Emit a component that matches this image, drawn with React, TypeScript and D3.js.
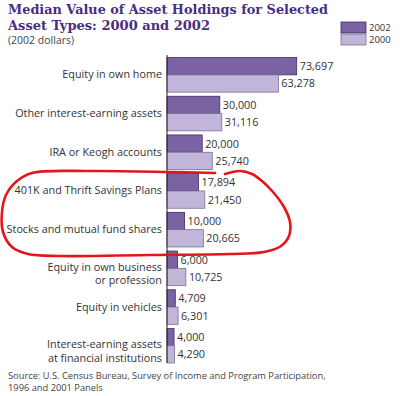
import React from "react";
import * as d3 from "d3";

const categories: string[][] = [
  ["Equity in own home"],
  ["Other interest-earning assets"],
  ["IRA or Keogh accounts"],
  ["401K and Thrift Savings Plans"],
  ["Stocks and mutual fund shares"],
  ["Equity in own business", "or profession"],
  ["Equity in vehicles"],
  ["Interest-earning assets", "at financial institutions"],
];
const values2002: number[] = [73697, 30000, 20000, 17894, 10000, 6000, 4709, 4000];
const values2000: number[] = [63278, 31116, 25740, 21450, 20665, 10725, 6301, 4290];
const seriesNames: string[] = ["2002", "2000"];
const titleLines: string[] = ["Median Value of Asset Holdings for Selected", "Asset Types: 2000 and 2002"];
const subtitle = "(2002 dollars)";
const sourceLines: string[] = [
  "Source: U.S. Census Bureau, Survey of Income and Program Participation,",
  "1996 and 2001 Panels",
];

const C2002 = "#7b62a3";
const C2000 = "#c1b5d9";
const S2002 = "#3e2d5e";
const S2000 = "#7d7194";
const TITLE = "#4b2d7f";
const FONT = "'Open Sans', 'DejaVu Sans', sans-serif";

export default function App() {
  const W = 400, H = 396;
  const keys = categories.map((_, i) => String(i));
  const y = d3.scaleBand<string>().domain(keys).range([55.5, 365.1]).paddingInner(0.106).paddingOuter(0.053);
  const x = d3.scaleLinear().domain([0, 80000]).range([167, 167 + 140.8]);
  const inner = d3.scaleBand<string>().domain(seriesNames).range([0, y.bandwidth()]);
  const fmt = d3.format(",");
  const series = [
    { name: "2002", vals: values2002, fill: C2002, stroke: S2002 },
    { name: "2000", vals: values2000, fill: C2000, stroke: S2000 },
  ];
  const line = d3.line().curve(d3.curveCatmullRom.alpha(0.5));
  const ring: [number, number][] = [
    [225, 174], [240, 171], [252, 174], [262, 181], [273, 192], [284, 207], [290, 222],
    [289, 236], [281, 246], [264, 252], [230, 254], [150, 255], [60, 256], [28, 254],
    [12, 247], [3, 232], [2, 212], [6, 195], [17, 181], [32, 173], [90, 171], [170, 172], [215, 173],
  ];
  return (
    <svg width={W} height={H} style={{ position: "absolute", left: 0, top: 0, background: "#fff" }}>
      <rect width={W} height={H} fill="#fff" />
      {titleLines.map((t, i) => (
        <text key={i} x={8} y={14 + i * 16} fontFamily="'DejaVu Serif', serif" fontWeight="bold"
          fontSize={13} fill={TITLE} textLength={i === 0 ? 320 : 202} lengthAdjust="spacingAndGlyphs">{t}</text>
      ))}
      <text x={8} y={44} fontFamily={FONT} fontSize={10.5} fill="#444">{subtitle}</text>
      {series.map((s, i) => (
        <g key={s.name}>
          <rect x={341} y={22 + i * 12} width={25} height={11} fill={s.fill} stroke={s.stroke} strokeWidth={0.8} />
          <text x={369} y={31 + i * 12} fontFamily={FONT} fontSize={9.5} fill="#333">{s.name}</text>
        </g>
      ))}
      {series.map((s) => (
        <g key={s.name}>
          {s.vals.map((v, i) => {
            const yy = (y(String(i)) as number) + (inner(s.name) as number);
            const h = inner.bandwidth();
            return (
              <g key={i}>
                <rect x={x(0)} y={yy} width={x(v) - x(0)} height={h} fill={s.fill} stroke={s.stroke} strokeWidth={0.8} />
                <text x={x(v) + 3} y={yy + h / 2 + 4} fontFamily={FONT} fontSize={10.8} fill="#333">{fmt(v)}</text>
              </g>
            );
          })}
        </g>
      ))}
      <line x1={x(0)} x2={x(0)} y1={55} y2={363} stroke="#222" strokeWidth={1} />
      {categories.map((lines, i) => {
        const c = (y(String(i)) as number) + y.bandwidth() / 2;
        return (
          <text key={i} textAnchor="end" fontFamily={FONT} fontSize={10.8} fill="#333">
            {lines.map((l, j) => (
              <tspan key={j} x={162} y={c + (lines.length > 1 ? 2.5 : 3.5) + j * 13.5}>{l}</tspan>
            ))}
          </text>
        );
      })}
      {sourceLines.map((t, i) => (
        <text key={i} x={8} y={379 + i * 12} fontFamily={FONT} fontSize={9.3} fill="#444">{t}</text>
      ))}
      <path d={line(ring) || ""} fill="none" stroke="#e3161b" strokeWidth={2.6} strokeLinejoin="round" strokeLinecap="round" />
    </svg>
  );
}
